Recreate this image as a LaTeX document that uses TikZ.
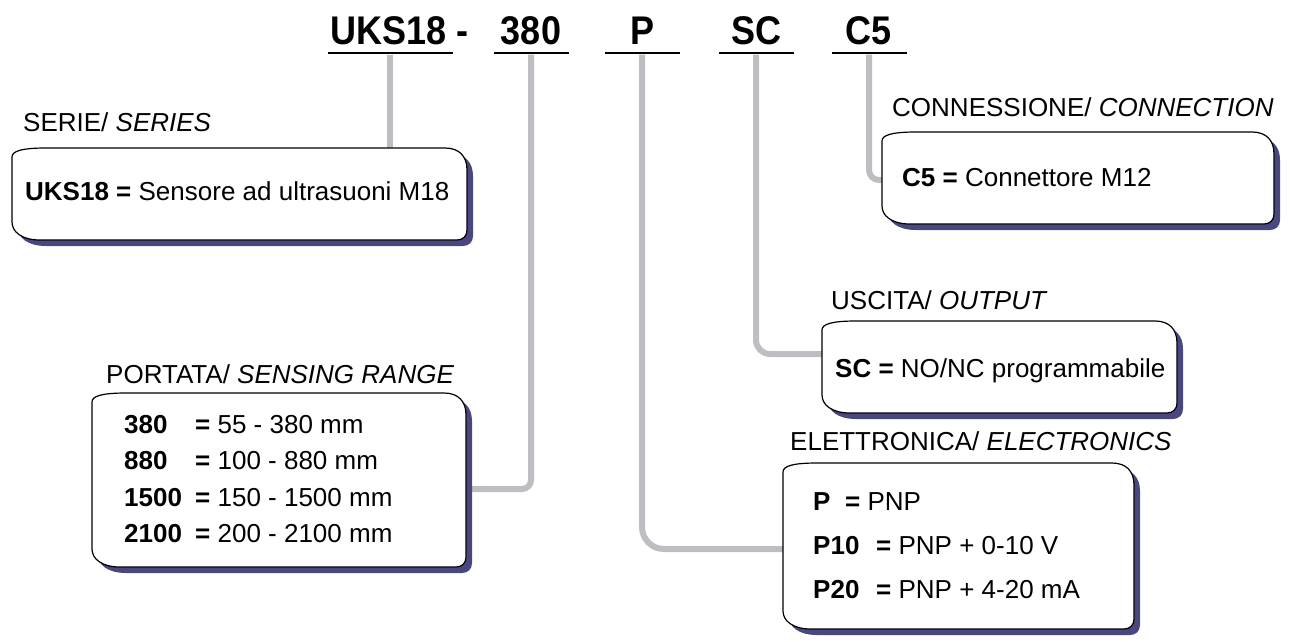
\documentclass[tikz,border=0pt]{standalone}
\usepackage{fontspec}
\setmainfont{Liberation Sans}
\usetikzlibrary{fit}
\pgfdeclarelayer{background}
\pgfsetlayers{background,main}

\definecolor{stemgray}{RGB}{189,190,194}
\definecolor{shadowblue}{RGB}{74,70,128}

\tikzset{
  txt/.style={font=\fontsize{26pt}{31pt}\selectfont, inner sep=0pt, anchor=base west},
  code/.style={font=\fontsize{40pt}{48pt}\selectfont\bfseries, inner sep=0pt, anchor=base, xscale=0.9},
  uline/.style={fill=black, inner sep=0pt, minimum height=2.6pt},
  stem/.style={draw=stemgray, line width=6pt},
  boxline/.style={draw=black, fill=white, line width=1.2pt}
}

% outline of a box: options, x1, y1, x2, y2
\newcommand{\boxpath}[5]{%
  \path[#1] (#2,#3+9) .. controls (#2,#3+3) and (#2+10,#3) .. (#2+34,#3)
    -- (#4-22,#3) .. controls (#4-8,#3) and (#4,#3+8) .. (#4,#3+22)
    -- (#4,#5-10) .. controls (#4,#5-4) and (#4-4,#5) .. (#4-10,#5)
    -- (#2+28,#5) .. controls (#2+10,#5) and (#2,#5-8) .. (#2,#5-18)
    -- cycle;}
% box with shadow: name, x1, y1, x2, y2
\newcommand{\codebox}[5]{%
  \boxpath{fill=shadowblue, shift={(6,6)}}{#2}{#3}{#4}{#5}
  \boxpath{boxline}{#2}{#3}{#4}{#5}
  \path (#2,#3) coordinate (#1nw) (#4,#5) coordinate (#1se);
  \node[fit=(#1nw)(#1se), inner sep=0pt] (#1) {};}

\begin{document}
\begin{tikzpicture}[x=1pt, y=-1pt]
  \useasboundingbox (0,0) rectangle (1294,641);

  % code string
  \node[code, anchor=base west] (hUKS) at (330,44) {UKS18 -};
  \node[code] (h380) at (531,44) {380};
  \node[code] (hP) at (642,44) {P};
  \node[code] (hSC) at (756,44) {SC};
  \node[code] (hC5) at (869,44) {C5};

  \node[uline, minimum width=125pt] (uUKS) at (390,53) {};
  \node[uline, minimum width=75pt] (u380) at (531,53) {};
  \node[uline, minimum width=75pt] (uP) at (642,53) {};
  \node[uline, minimum width=75pt] (uSC) at (756,53) {};
  \node[uline, minimum width=75pt] (uC5) at (869,53) {};

  % boxes
  \codebox{bSer}{12}{148}{467}{240}
  \codebox{bPor}{92}{393}{466}{567}
  \codebox{bEle}{783}{463}{1134}{629}
  \codebox{bUsc}{822}{321}{1177}{413}
  \codebox{bCon}{882}{132}{1274}{224}

  % Serie
  \node[txt] (lSer) at (23,131) {SERIE/ \textit{SERIES}};
  \node[txt] (tSer) at (25,200) {\textbf{UKS18 =} Sensore ad ultrasuoni M18};

  % Portata
  \node[txt] (lPor) at (106,383) {PORTATA/ \textit{SENSING RANGE}};
  \foreach \code/\range [count=\i] in {380/55 - 380 mm, 880/100 - 880 mm,
      1500/150 - 1500 mm, 2100/200 - 2100 mm} {
    \node[txt] (pc\i) at (124,396.5+36.5*\i) {\textbf{\code}};
    \node[txt] (pr\i) at (195,396.5+36.5*\i) {\textbf{=} \range};
  }

  % Elettronica
  \node[txt] (lEle) at (790,450) {ELETTRONICA/ \textit{ELECTRONICS}};
  \node[txt] (ec1) at (813,510) {\textbf{P}};
  \node[txt] (er1) at (845,510) {\textbf{=} PNP};
  \node[txt] (ec2) at (813,554) {\textbf{P10}};
  \node[txt] (er2) at (876,554) {\textbf{=} PNP + 0-10 V};
  \node[txt] (ec3) at (813,598) {\textbf{P20}};
  \node[txt] (er3) at (876,598) {\textbf{=} PNP + 4-20 mA};

  % Uscita
  \node[txt] (lUsc) at (831,309) {USCITA/ \textit{OUTPUT}};
  \node[txt] (tUsc) at (835,377) {\textbf{SC =} NO/NC programmabile};

  % Connessione
  \node[txt] (lCon) at (892,116) {CONNESSIONE/ \textit{CONNECTION}};
  \node[txt] (tCon) at (902,186) {\textbf{C5 =} Connettore M12};

  % stems
  \begin{pgfonlayer}{background}
    \draw[stem] (uUKS.south) -- (uUKS.south |- bSer.north);
    \draw[stem, rounded corners=9pt] (u380.south) |- (bPor.east |- 0,489);
    \draw[stem, rounded corners=22pt] (uP.south) |- (bEle.west |- 0,549);
    \draw[stem, rounded corners=14pt] (uSC.south) |- (bUsc.west |- 0,354);
    \draw[stem, rounded corners=10pt] (uC5.south) |- (bCon.west |- 0,180);
  \end{pgfonlayer}
\end{tikzpicture}
\end{document}
